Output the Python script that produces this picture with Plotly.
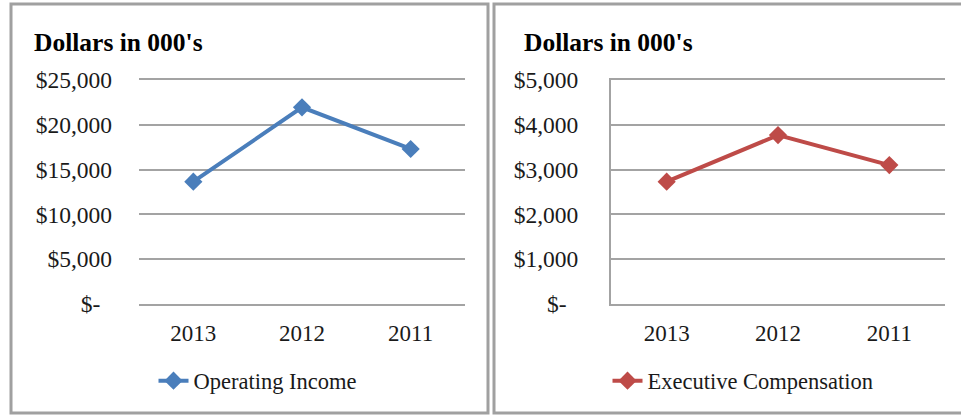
import plotly.graph_objects as go

years = ["2013", "2012", "2011"]
operating_income = [13650, 21950, 17300]
executive_comp = [2730, 3770, 3100]
left_ticks = [0, 5000, 10000, 15000, 20000, 25000]
left_labels = ["$-\u00a0\u00a0", "$5,000", "$10,000", "$15,000", "$20,000", "$25,000"]
right_ticks = [0, 1000, 2000, 3000, 4000, 5000]
right_labels = ["$-\u00a0\u00a0", "$1,000", "$2,000", "$3,000", "$4,000", "$5,000"]

W, H = 961, 415
FONT = "Liberation Serif"
GRID = "#a3a3a3"
BLUE = "#4a7ebb"
RED = "#be4b48"

def px(x):
    return x / W

def py(y):
    return 1 - y / H

fig = go.Figure()
fig.add_trace(go.Scatter(
    x=years, y=operating_income, mode="lines+markers", name="Operating Income",
    line=dict(color=BLUE, width=4), marker=dict(symbol="diamond", size=14, color=BLUE),
    xaxis="x", yaxis="y", legend="legend"))
fig.add_trace(go.Scatter(
    x=years, y=executive_comp, mode="lines+markers", name="Executive Compensation",
    line=dict(color=RED, width=4), marker=dict(symbol="diamond", size=14, color=RED),
    xaxis="x2", yaxis="y2", legend="legend2"))

xfont = dict(family=FONT, size=23, color="#1a1a1a")
yfont = dict(family=FONT, size=23.5, color="#1a1a1a")
common_x = dict(type="category", range=[-0.5, 2.5], showgrid=False, zeroline=False,
                showline=True, mirror=True, linecolor=GRID, linewidth=2,
                ticks="", tickfont=xfont, ticklabelstandoff=7, automargin=False)
common_y = dict(showgrid=True, gridcolor=GRID, gridwidth=2, zeroline=False,
                ticks="", tickfont=yfont, ticklabelstandoff=26, automargin=False)

fig.update_layout(
    width=W, height=H, autosize=False,
    margin=dict(l=0, r=0, t=0, b=0, pad=0, autoexpand=False),
    paper_bgcolor="white", plot_bgcolor="white",
    showlegend=True,
    xaxis=dict(domain=[px(139), px(465)], anchor="y", **common_x),
    yaxis=dict(domain=[py(304), py(80)], anchor="x", range=[0, 25000],
               tickvals=left_ticks, ticktext=left_labels, showline=False, **common_y),
    xaxis2=dict(domain=[px(611), px(945)], anchor="y2", **common_x),
    yaxis2=dict(domain=[py(304), py(80)], anchor="x2", range=[0, 5000],
                tickvals=right_ticks, ticktext=right_labels,
                showline=True, linecolor=GRID, linewidth=2, **common_y),
    legend=dict(x=px(258), y=py(381), xanchor="center", yanchor="middle",
                font=dict(family=FONT, size=22.5, color="#1a1a1a"), bgcolor="rgba(0,0,0,0)"),
    legend2=dict(x=px(743), y=py(381), xanchor="center", yanchor="middle",
                 font=dict(family=FONT, size=22.5, color="#1a1a1a"), bgcolor="rgba(0,0,0,0)"),
    annotations=[
        dict(text="<b>Dollars in 000's</b>", x=px(32), y=py(42), xref="paper", yref="paper",
             xanchor="left", yanchor="middle", showarrow=False,
             font=dict(family=FONT, size=25.5, color="black")),
        dict(text="<b>Dollars in 000's</b>", x=px(522), y=py(42), xref="paper", yref="paper",
             xanchor="left", yanchor="middle", showarrow=False,
             font=dict(family=FONT, size=25.5, color="black")),
    ],
    shapes=[
        dict(type="rect", xref="paper", yref="paper", x0=px(11), x1=px(488), y0=py(413), y1=py(4),
             line=dict(color="#a0a0a0", width=3)),
        dict(type="rect", xref="paper", yref="paper", x0=px(494), x1=px(966), y0=py(413), y1=py(4),
             line=dict(color="#a0a0a0", width=3)),
    ],
)

fig.write_html("out.html", config={"responsive": False, "displayModeBar": False},
               post_script="document.body.style.margin='0';document.body.style.overflow='hidden';")
